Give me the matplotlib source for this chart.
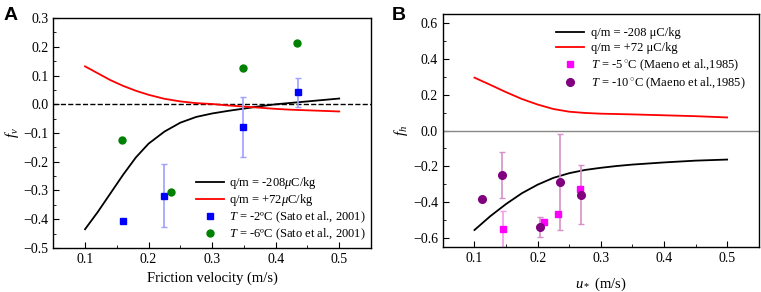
import numpy as np
import matplotlib
matplotlib.use('Agg')
import matplotlib.pyplot as plt
from matplotlib.ticker import MultipleLocator

plt.rcParams['font.family'] = ['Liberation Serif', 'DejaVu Serif']
plt.rcParams['mathtext.fontset'] = 'custom'
plt.rcParams['mathtext.rm'] = 'Liberation Serif'
plt.rcParams['mathtext.it'] = 'Liberation Serif:italic'
plt.rcParams['font.size'] = 10

# Panel A data
ua = [0.1, 0.12, 0.14, 0.16, 0.18, 0.2, 0.225, 0.25, 0.275, 0.3, 0.325, 0.35, 0.375, 0.4, 0.425, 0.45, 0.475, 0.5]
fv_neg = [-0.435, -0.375, -0.31, -0.245, -0.185, -0.137, -0.095, -0.064, -0.044, -0.032, -0.023, -0.015, -0.007, 0.0, 0.005, 0.01, 0.015, 0.02]
fv_pos = [0.132, 0.108, 0.084, 0.064, 0.047, 0.033, 0.019, 0.01, 0.004, 0.001, -0.004, -0.008, -0.012, -0.016, -0.019, -0.021, -0.023, -0.025]
sato2_x = [0.16, 0.225, 0.349, 0.4355]
sato2_y = [-0.405, -0.318, -0.079, 0.042]
sato2_err = [0.0, 0.11, 0.103, 0.05]
sato6_x = [0.158, 0.235, 0.349, 0.4335]
sato6_y = [-0.125, -0.306, 0.126, 0.213]

# Panel B data
ub = [0.1, 0.125, 0.15, 0.175, 0.2, 0.225, 0.25, 0.275, 0.3, 0.325, 0.35, 0.4, 0.45, 0.5]
fh_neg = [-0.555, -0.478, -0.41, -0.35, -0.302, -0.264, -0.238, -0.22, -0.208, -0.198, -0.19, -0.178, -0.168, -0.162]
fh_pos = [0.295, 0.255, 0.214, 0.176, 0.145, 0.12, 0.105, 0.098, 0.094, 0.092, 0.09, 0.085, 0.08, 0.073]
maeno5_x = [0.145, 0.21, 0.233, 0.267]
maeno5_y = [-0.55, -0.512, -0.463, -0.327]
maeno5_err = [0.1, 0.0, 0.0, 0.0]
maeno10_x = [0.112, 0.143, 0.203, 0.236, 0.269]
maeno10_y = [-0.382, -0.249, -0.54, -0.286, -0.357]
maeno10_err = [0.0, 0.13, 0.055, 0.267, 0.163]

fig = plt.figure(figsize=(7.61, 2.92), dpi=100)
axA = fig.add_axes([0.070, 0.151, 0.4175, 0.787])
axB = fig.add_axes([0.582, 0.154, 0.415, 0.798])

def style(ax, xminor, yminor):
    ax.xaxis.set_minor_locator(MultipleLocator(xminor))
    ax.yaxis.set_minor_locator(MultipleLocator(yminor))
    ax.tick_params(which='both', direction='in', labelsize=10)
    ax.tick_params(which='major', length=4)
    ax.tick_params(which='minor', length=2)
    for s in ax.spines.values():
        s.set_linewidth(1.0)

# ---- A ----
axA.axhline(0, color='black', ls='--', lw=1)
la1, = axA.plot(ua, fv_neg, color='black', lw=1.3)
la2, = axA.plot(ua, fv_pos, color='red', lw=1.3)
axA.errorbar(sato2_x, sato2_y, yerr=sato2_err, fmt='none',
             ecolor='#a0a0ff', elinewidth=1.2, capsize=2.5)
la3, = axA.plot(sato2_x, sato2_y, 's', color='blue', ms=4.5)
la4, = axA.plot(sato6_x, sato6_y, 'o', color='green', ms=5)
axA.set_xlim(0.05, 0.55)
axA.set_ylim(-0.5, 0.3)
axA.set_xticks([0.1, 0.2, 0.3, 0.4, 0.5])
axA.set_yticks(np.arange(-0.5, 0.31, 0.1))
axA.set_xlabel('Friction velocity (m/s)', fontsize=10.5)
axA.set_ylabel('$f_v$', fontsize=11, labelpad=2)
style(axA, 0.05, 0.05)
axA.legend([la1, la2, la3, la4],
           [r'q/m = -208$\mu$C/kg', r'q/m = +72$\mu$C/kg',
            '$T$ = -2ºC (Sato et al., 2001)', '$T$ = -6ºC (Sato et al., 2001)'],
           loc='lower right', frameon=False, fontsize=9, handlelength=2.2,
           labelspacing=0.12, borderaxespad=0.05, handletextpad=0.4)

# ---- B ----
axB.axhline(0, color='#888888', lw=1)
lb1, = axB.plot(ub, fh_neg, color='black', lw=1.3)
lb2, = axB.plot(ub, fh_pos, color='red', lw=1.3)
axB.errorbar(maeno5_x, maeno5_y, yerr=maeno5_err, fmt='none',
             ecolor='#f49ce8', elinewidth=1.2, capsize=2.5)
axB.errorbar(maeno10_x, maeno10_y, yerr=maeno10_err, fmt='none',
             ecolor='#d890c8', elinewidth=1.2, capsize=2.5)
lb3, = axB.plot(maeno5_x, maeno5_y, 's', color='magenta', ms=4.5)
lb4, = axB.plot(maeno10_x, maeno10_y, 'o', color='purple', ms=5.5)
axB.set_xlim(0.05, 0.55)
axB.set_ylim(-0.65, 0.65)
axB.set_xticks([0.1, 0.2, 0.3, 0.4, 0.5])
axB.set_yticks(np.arange(-0.6, 0.61, 0.2))
axB.set_xlabel('$u_*$ (m/s)', fontsize=10.5, labelpad=8)
axB.set_ylabel('$f_h$', fontsize=11, labelpad=2)
style(axB, 0.05, 0.1)
axB.legend([lb1, lb2, lb3, lb4],
           ['q/m = -208 μC/kg', 'q/m = +72 μC/kg',
            r'$T$ = -5$\,^{\circ}$C (Maeno et al.,1985)', r'$T$ = -10$\,^{\circ}$C (Maeno et al.,1985)'],
           loc='upper right', frameon=False, fontsize=9, handlelength=2.2,
           labelspacing=0.25, borderaxespad=0.65, handletextpad=0.6)

fig.text(0.004, 0.975, 'A', fontsize=14, fontweight='bold', family='Liberation Sans', va='top')
fig.text(0.515, 0.975, 'B', fontsize=14, fontweight='bold', family='Liberation Sans', va='top')

fig.savefig('out.png', dpi=100)
